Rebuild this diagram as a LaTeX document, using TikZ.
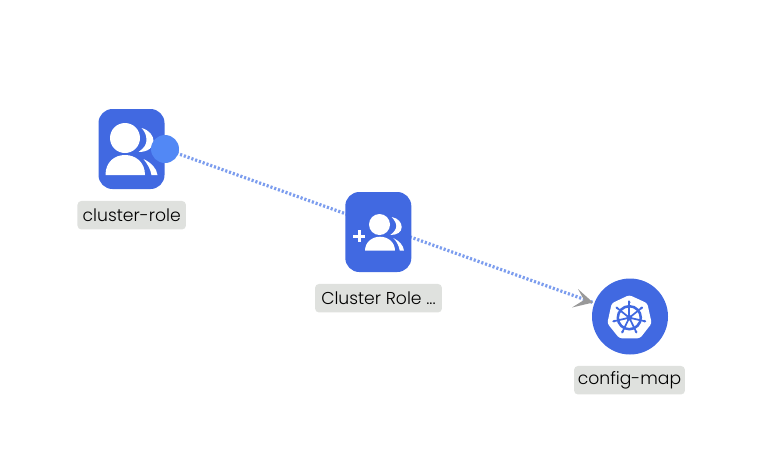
\documentclass[tikz,border=0pt]{standalone}
\usetikzlibrary{backgrounds}
\usepackage{fontspec}
\setmainfont{Poppins Light}
\definecolor{kblue}{HTML}{4169E1}
\definecolor{hblue}{HTML}{5288F5}
\definecolor{lbl}{HTML}{DFE1DE}
\definecolor{edgec}{HTML}{7C9DEE}
\definecolor{arrowc}{HTML}{999999}
\tikzset{
  iconbox/.style={fill=kblue,rounded corners=10.5pt,minimum width=49.5pt,minimum height=60pt,inner sep=0,draw=none},
  labelbox/.style={fill=lbl,rounded corners=3pt,inner sep=0,minimum height=21.4pt,font=\fontsize{12.9pt}{15pt}\selectfont,text=black},
  hub/.style={circle,fill=kblue,minimum size=57pt,inner sep=0},
  port/.style={circle,fill=hblue,minimum size=21pt,inner sep=0},
  conn/.style={edgec,line width=2.4pt,dash pattern=on 1.6pt off 1.4pt},
}
\begin{document}
\begin{tikzpicture}[x=0.75pt,y=-0.75pt]
\useasboundingbox (0,0) rectangle (778,462);
\node[iconbox] (crole) at (131.5,149) {};
\node[iconbox] (crb) at (378.3,232) {};
\node[hub] (cmap) at (630,316.5) {};
% user group icon 1
\begin{scope}[shift={(131.5,149)}]
\fill[white] (-6.5,-11) circle (15);
\fill[white] (-26,26) .. controls (-26,13) and (-17,6) .. (-6.5,6) .. controls (4,6) and (13.5,13) .. (13.5,26) -- cycle;
\fill[white] (10,-21) .. controls (18,-19) and (22,-13) .. (22,-8) .. controls (22,-2) and (17,3) .. (7,3) .. controls (13,-1) and (15,-5) .. (15,-9) .. controls (15,-14) and (13,-18) .. (10,-21) -- cycle;
\fill[white] (12,10) .. controls (20,14) and (25,19) .. (26,26) -- (20,26) .. controls (19,20) and (16,15) .. (12,10) -- cycle;
\end{scope}
% user group icon 2
\begin{scope}[shift={(378.3,232)}]
\fill[white] (1.2,-7.5) circle (10.5);
\fill[white] (-13.3,18.7) .. controls (-13.3,10) and (-6,4.7) .. (1.7,4.7) .. controls (9.4,4.7) and (16.7,10) .. (16.7,18.7) -- cycle;
\fill[white] (13.4,-15) .. controls (20,-14) and (23.4,-9) .. (23.4,-5) .. controls (23.4,0) and (19,3) .. (12,3) .. controls (16,0) and (18,-3) .. (18,-6) .. controls (18,-9) and (16,-12) .. (13.4,-15) -- cycle;
\fill[white] (15,6) .. controls (21,9) and (25,13) .. (25.7,18.7) -- (21.5,18.7) .. controls (20.5,13) and (18,9) .. (15,6) -- cycle;
\fill[white] (-25.3,2.5) rectangle (-13.3,5.5);
\fill[white] (-20.8,-2) rectangle (-17.8,10);
\end{scope}
% kubernetes icon
\begin{scope}[shift={(630,316.5)}]
\fill[white,rounded corners=2pt] (-0.7,-21.5) -- (17.3,-13.2) -- (21.7,6.8) -- (10,21.8) -- (-10.7,21.8) -- (-22.7,6.8) -- (-18.3,-13.2) -- cycle;
\begin{scope}[shift={(-0.7,1.2)}]
\draw[kblue,line width=1.9pt] (0,0) circle (11.5);
\fill[kblue] (0,0) circle (2.8);
\foreach \a in {0,51.43,...,308.6}{
  \draw[kblue,line width=1.3pt,line cap=round] (\a-90:2) -- (\a-90:16.5);
  \fill[kblue] (\a-90:15.5) circle (1.3);
}
\end{scope}
\end{scope}
\node[port] (hp) at (165,149) {};
\coordinate (tip) at (593,302.5);
\begin{pgfonlayer}{background}
\draw[conn] (hp.center) -- (tip);
\end{pgfonlayer}
\fill[arrowc] (tip) -- (578,289) -- (584,300) -- (572,307.5) -- cycle;
% labels
\node[labelbox,minimum width=81.4pt] (l1) at (131.7,215.2) {cluster-role};
\node[labelbox,minimum width=95.2pt] (l2) at (378.5,298.2) {Cluster Role ...};
\node[labelbox,minimum width=83.2pt] (l3) at (629.5,380.2) {config-map};
\end{tikzpicture}
\end{document}
